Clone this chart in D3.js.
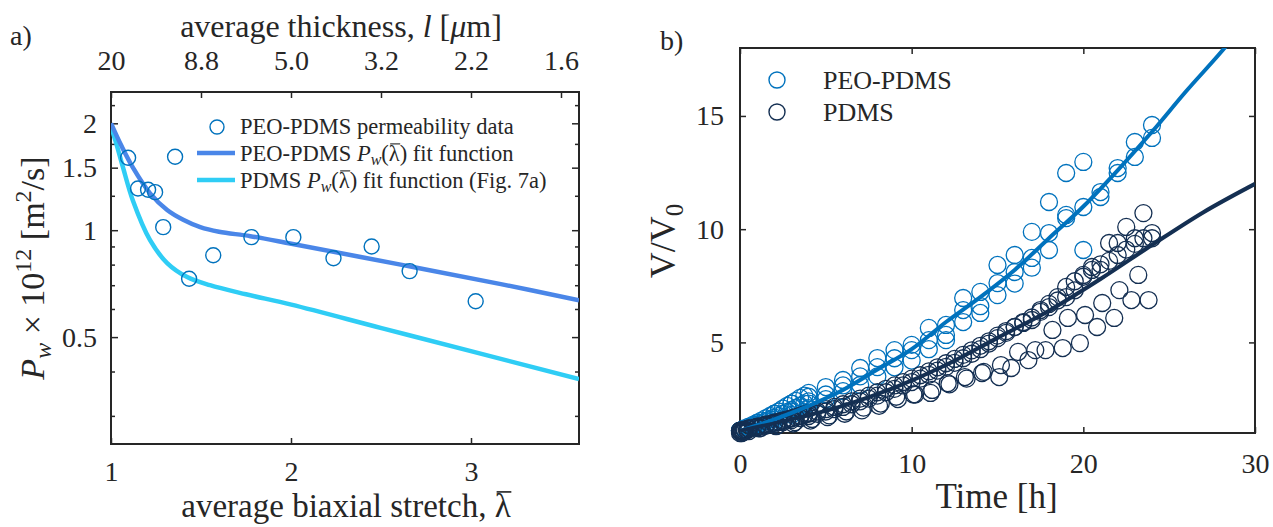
<!DOCTYPE html>
<html>
<head>
<meta charset="utf-8">
<script src="https://cdn.jsdelivr.net/npm/d3@7"></script>
<style>
    body { margin: 0; background: #fff; }
    svg text { font-family: "Liberation Serif", "Times New Roman", serif; fill: #262626; }
    .axis path, .axis line { stroke: #262626; }
</style>
</head>
<body>
<svg id="chart" width="1273" height="527"></svg>
<script>
// ---- panel a) permeability vs stretch ----
const stretchData = [1.095, 1.150, 1.206, 1.245, 1.356, 1.290, 1.434, 1.568, 1.780, 2.013, 2.236, 2.448, 2.659, 3.026];
const permData = [1.60, 1.31, 1.30, 1.28, 1.61, 1.02, 0.73, 0.85, 0.956, 0.956, 0.834, 0.90, 0.767, 0.631];

const peoFitStretch = [1.0, 1.06, 1.122, 1.217, 1.312, 1.401, 1.496, 1.6, 1.774, 2.002, 2.609, 3.166, 3.6];
const peoFitPerm = [2.0, 1.72, 1.50, 1.27, 1.14, 1.07, 1.02, 0.99, 0.962, 0.916, 0.800, 0.705, 0.635];

const pdmsFitStretch = [1.0, 1.03, 1.067, 1.122, 1.217, 1.312, 1.423, 1.55, 1.75, 2.002, 2.503, 3.01, 3.6];
const pdmsFitPerm = [1.96, 1.75, 1.50, 1.21, 0.937, 0.808, 0.738, 0.700, 0.660, 0.617, 0.530, 0.455, 0.381];

const thicknessTicks = [1, 1.5, 2, 2.5, 3, 3.5];
const thicknessLabels = ['20', '8.8', '5.0', '3.2', '2.2', '1.6'];
const permTicks = [0.5, 1, 1.5, 2];
const permMinorTicks = [0.3, 0.4, 0.6, 0.7, 0.8, 0.9, 1.25, 1.75, 2.25];

// ---- panel b) swelling vs time ----
const hours = [0, 1, 2, 3, 4, 5, 6, 7, 8, 9, 10, 11, 12, 13, 14, 15, 16, 17, 18, 19, 20, 21, 22, 23, 24];
const halfHours = [0, 0.5, 1, 1.5, 2, 2.5, 3, 3.5, 4, 4.5, 5, 5.5, 6, 6.5, 7, 7.5, 8, 8.5, 9, 9.5, 10, 10.5, 11, 11.5,
    12, 12.5, 13, 13.5, 14, 14.5, 15, 15.5, 16, 16.5, 17, 17.5, 18, 18.5, 19, 19.5, 20, 20.5, 21, 21.5, 22, 22.5, 23, 23.5, 24];
const earlyTimes = [0.25, 0.5, 0.75, 1, 1.25, 1.5, 1.75, 2, 2.25, 2.5, 2.75, 3, 3.25, 3.5, 3.75, 4];
const startTimes = [0, 0.05, 0.1, 0.15, 0.2, 0.3, 0.4, 0.5];

const peoHigh = [1.1, 1.45, 1.85, 2.3, 2.6, 3.03, 3.34, 3.87, 4.31, 4.66, 4.89, 5.64, 5.77, 6.96, 7.23, 8.42, 8.86, 9.88, 11.2, 12.48, 12.97];
const peoMid = [1.1, 1.3, 1.6, 1.95, 2.3, 2.7, 3.1, 3.5, 3.91, 4.3, 4.66, 5.1, 5.33, 6.43, 6.3, 7.62, 8.11, 8.73, 9.83, 10.63, 10.98, 11.64, 12.7, 13.85, 14.6];
const peoLow = [1.1, 1.25, 1.5, 1.8, 2.1, 2.5, 2.85, 3.12, 3.5, 3.9, 4.2, 4.7, 5.1, 5.9, 6.6, 7.09, 7.6, 8.3, 9.08, 10.49, 9.08, 11.42, 12.48, 13.19, 14.03];
const peoEarlyA = [1.2, 1.28, 1.36, 1.45, 1.55, 1.65, 1.75, 1.85, 1.95, 2.08, 2.2, 2.3, 2.42, 2.55, 2.65, 2.77];
const peoEarlyB = [1.15, 1.22, 1.3, 1.37, 1.45, 1.52, 1.6, 1.68, 1.76, 1.85, 1.93, 2.02, 2.1, 2.2, 2.3, 2.4];

const pdmsUpper = [1.1, 1.2, 1.28, 1.37, 1.46, 1.55, 1.65, 1.75, 1.85, 1.95, 2.05, 2.15, 2.27, 2.4, 2.52, 2.65, 2.8, 2.95,
    3.1, 3.25, 3.4, 3.55, 3.72, 3.9, 4.08, 4.27, 4.45, 4.65, 4.85, 5.05, 5.3, 5.5, 5.68, 5.9, 6.1, 6.35, 6.56, 6.85,
    7.0, 7.3, 7.9, 8.33, 8.2, 9.39, 9.39, 10.1, 9.6, 10.71, 9.83];
const pdmsMid = [1.1, 1.17, 1.24, 1.32, 1.4, 1.48, 1.57, 1.66, 1.75, 1.85, 1.95, 2.05, 2.15, 2.27, 2.4, 2.52, 2.65, 2.8,
    2.95, 3.1, 3.25, 3.4, 3.57, 3.75, 3.92, 4.1, 4.3, 4.5, 4.7, 4.95, 5.19, 5.42, 5.68, 5.86, 5.99, 6.43, 6.7, 7.0,
    7.45, 7.7, 7.98, 8.2, 8.45, 8.6, 8.86, 9.1, 9.35, 9.6, 9.6];
const pdmsLowTimes = [0.2, 1.2, 2.2, 3.2, 4.2, 5.2, 6.2, 7.2, 8.2, 9.2, 10.2, 11.2, 12.2, 13.2, 14.2, 15.2, 16.2, 17.2, 18.2, 19.1, 20.1, 21.1, 22.1, 23.2];
const pdmsLow = [1.1, 1.22, 1.35, 1.48, 1.62, 1.78, 1.95, 2.12, 2.3, 2.5, 2.7, 2.9, 3.15, 3.4, 3.7, 4.0, 4.58, 4.66, 5.55, 6.08, 6.21, 6.74, 7.31, 7.98];
const pdmsLowestTimes = [0.1, 1.1, 2.1, 3.1, 4.1, 5.1, 6.1, 7.1, 8.1, 9.1, 10.1, 11.1, 12.1, 13.1, 14.1, 15.1, 15.8, 16.8, 17.8, 18.8, 19.8, 20.8, 21.8, 22.8, 23.8];
const pdmsLowest = [1.1, 1.2, 1.3, 1.42, 1.55, 1.7, 1.85, 2.0, 2.2, 2.6, 2.7, 2.77, 3.2, 3.47, 3.65, 3.47, 3.87, 4.22, 4.66, 4.75, 4.97, 5.68, 6.08, 6.87, 6.87];
const pdmsEarly = [1.15, 1.19, 1.23, 1.27, 1.31, 1.35, 1.4, 1.45, 1.5, 1.55, 1.6, 1.65, 1.7, 1.76, 1.82, 1.88];
const pdmsStart = [1.0, 1.05, 1.0, 1.08, 1.04, 1.1, 1.12, 1.08];

const peoFitTime = [0, 2, 4, 6, 8, 10, 12, 14, 16, 18, 20, 22, 24, 26, 28, 29];
const peoFitVol = [1.1, 1.6, 2.2, 2.9, 3.8, 4.7, 5.9, 7.0, 8.2, 9.6, 11.0, 12.6, 14.3, 16.1, 17.8, 18.7];
const pdmsFitTime = [0, 3, 6, 9, 12, 15, 18, 21, 24, 27, 30];
const pdmsFitVol = [1.1, 1.6, 2.2, 3.0, 4.0, 5.2, 6.4, 7.8, 9.3, 10.75, 12.0];

const timeTicks = [0, 10, 20, 30];
const volTicks = [5, 10, 15];

const peoColor = '#0072bd';
const pdmsColor = '#142f52';
const peoFitColor = '#4a86e8';
const pdmsFitColor = '#2fcdf5';
const axisColor = '#262626';

const svg = d3.select('#chart');

// draws a bar over the λ of a text element, measured from the laid-out glyph
function overbarLambda(textSel, fontSize) {
    const node = textSel.node();
    const idx = node.textContent.lastIndexOf('λ');
    const start = node.getStartPositionOfChar(idx);
    const end = node.getEndPositionOfChar(idx);
    const parent = d3.select(node.parentNode);
    parent.append('line')
        .attr('x1', start.x + fontSize * 0.06).attr('x2', end.x + fontSize * 0.02)
        .attr('y1', start.y - fontSize * 0.76).attr('y2', start.y - fontSize * 0.76)
        .attr('stroke', axisColor).attr('stroke-width', Math.max(1, fontSize * 0.05));
}

// ===================== panel a =====================
const a = {left: 111, right: 579, top: 92, bottom: 444};

const xA = d3.scaleLinear().domain([1, 3.6]).range([a.left, a.right]);
const yA = d3.scaleLog().domain([0.25, 2.45]).range([a.bottom, a.top]);

const gA = svg.append('g');

gA.append('defs').append('clipPath').attr('id', 'clipA')
    .append('rect').attr('x', a.left).attr('y', a.top)
    .attr('width', a.right - a.left).attr('height', a.bottom - a.top);

// axes with inward ticks, domain drawn by the box
gA.append('g').attr('class', 'axis')
    .attr('transform', `translate(0,${a.bottom})`)
    .call(d3.axisBottom(xA).tickValues([1, 2, 3]).tickSize(-6).tickPadding(17).tickFormat(d3.format('d')))
    .call(g => g.select('.domain').remove());

gA.append('g').attr('class', 'axis')
    .attr('transform', `translate(0,${a.top})`)
    .call(d3.axisTop(xA).tickValues(thicknessTicks).tickSize(-6).tickPadding(22)
        .tickFormat((d, i) => thicknessLabels[i]))
    .call(g => g.select('.domain').remove());

gA.append('g').attr('class', 'axis')
    .attr('transform', `translate(${a.left},0)`)
    .call(d3.axisLeft(yA).tickValues(permTicks).tickSize(-7).tickPadding(14).tickFormat(d3.format('')))
    .call(g => g.select('.domain').remove());

gA.append('g').attr('class', 'axis')
    .attr('transform', `translate(${a.left},0)`)
    .call(d3.axisLeft(yA).tickValues(permMinorTicks).tickSize(-4).tickFormat(''))
    .call(g => g.select('.domain').remove());

gA.append('g').attr('class', 'axis')
    .attr('transform', `translate(${a.right},0)`)
    .call(d3.axisRight(yA).tickValues(permTicks).tickSize(-7).tickFormat(''))
    .call(g => g.select('.domain').remove());

gA.append('g').attr('class', 'axis')
    .attr('transform', `translate(${a.right},0)`)
    .call(d3.axisRight(yA).tickValues(permMinorTicks).tickSize(-4).tickFormat(''))
    .call(g => g.select('.domain').remove());

gA.selectAll('.axis line').attr('stroke-width', 1.5);
gA.selectAll('.axis text').style('font-size', '28px');

gA.append('rect')
    .attr('x', a.left).attr('y', a.top)
    .attr('width', a.right - a.left).attr('height', a.bottom - a.top)
    .attr('fill', 'none').attr('stroke', axisColor).attr('stroke-width', 2);

// fit curves
const lineA = d3.line().x(d => xA(d[0])).y(d => yA(d[1])).curve(d3.curveCatmullRom);

gA.append('path')
    .datum(pdmsFitStretch.map((s, i) => [s, pdmsFitPerm[i]]))
    .attr('clip-path', 'url(#clipA)')
    .attr('fill', 'none').attr('stroke', pdmsFitColor).attr('stroke-width', 4.5)
    .attr('d', lineA);

gA.append('path')
    .datum(peoFitStretch.map((s, i) => [s, peoFitPerm[i]]))
    .attr('clip-path', 'url(#clipA)')
    .attr('fill', 'none').attr('stroke', peoFitColor).attr('stroke-width', 4.5)
    .attr('d', lineA);

gA.selectAll('.perm-point')
    .data(stretchData.map((s, i) => [s, permData[i]]))
    .join('circle')
    .attr('class', 'perm-point')
    .attr('cx', d => xA(d[0]))
    .attr('cy', d => yA(d[1]))
    .attr('r', 7.5)
    .attr('fill', 'none').attr('stroke', peoColor).attr('stroke-width', 1.4);

// legend a
const legA = gA.append('g').style('font-size', '22.5px');
legA.append('circle').attr('cx', 217).attr('cy', 127).attr('r', 7)
    .attr('fill', 'none').attr('stroke', peoColor).attr('stroke-width', 1.4);
legA.append('text').attr('x', 240).attr('y', 134).text('PEO-PDMS permeability data');

legA.append('line').attr('x1', 197).attr('x2', 235).attr('y1', 153).attr('y2', 153)
    .attr('stroke', peoFitColor).attr('stroke-width', 4.5);
const leg2 = legA.append('text').attr('x', 240).attr('y', 161);
leg2.append('tspan').text('PEO-PDMS ');
leg2.append('tspan').attr('font-style', 'italic').text('P');
leg2.append('tspan').attr('font-style', 'italic').attr('font-size', '16px').attr('dy', 4).text('w');
leg2.append('tspan').attr('dy', -4).text('(λ) fit function');

legA.append('line').attr('x1', 197).attr('x2', 235).attr('y1', 180).attr('y2', 180)
    .attr('stroke', pdmsFitColor).attr('stroke-width', 4.5);
const leg3 = legA.append('text').attr('x', 240).attr('y', 188);
leg3.append('tspan').text('PDMS ');
leg3.append('tspan').attr('font-style', 'italic').text('P');
leg3.append('tspan').attr('font-style', 'italic').attr('font-size', '16px').attr('dy', 4).text('w');
leg3.append('tspan').attr('dy', -4).text('(λ) fit function (Fig. 7a)');

overbarLambda(leg2, 22.5);
overbarLambda(leg3, 22.5);

// titles a
gA.append('text').attr('x', 10).attr('y', 45).style('font-size', '28px').text('a)');

const topTitle = gA.append('text')
    .attr('x', (a.left + a.right) / 2 - 4).attr('y', 37)
    .attr('text-anchor', 'middle').style('font-size', '32px');
topTitle.append('tspan').text('average thickness, ');
topTitle.append('tspan').attr('font-style', 'italic').text('l');
topTitle.append('tspan').text(' [');
topTitle.append('tspan').attr('font-style', 'italic').text('μ');
topTitle.append('tspan').text('m]');

const bottomTitle = gA.append('text')
    .attr('x', (a.left + a.right) / 2 + 1).attr('y', 517)
    .attr('text-anchor', 'middle').style('font-size', '33px')
    .text('average biaxial stretch, λ');
overbarLambda(bottomTitle, 33);

const yTitleA = gA.append('text')
    .attr('transform', 'translate(44,268) rotate(-90)')
    .attr('text-anchor', 'middle').style('font-size', '34px');
yTitleA.append('tspan').attr('font-style', 'italic').text('P');
yTitleA.append('tspan').attr('font-style', 'italic').attr('font-size', '24px').attr('dy', 7).text('w');
yTitleA.append('tspan').attr('dy', -7).text(' × 10');
yTitleA.append('tspan').attr('font-size', '24px').attr('dy', -13).text('12');
yTitleA.append('tspan').attr('dy', 13).text(' [m');
yTitleA.append('tspan').attr('font-size', '24px').attr('dy', -13).text('2');
yTitleA.append('tspan').attr('dy', 13).text('/s]');

// ===================== panel b =====================
const b = {left: 740, right: 1255, top: 48, bottom: 433};

const xB = d3.scaleLinear().domain([0, 30]).range([b.left, b.right]);
const yB = d3.scaleLinear().domain([1, 18]).range([b.bottom, b.top]);

const gB = svg.append('g');

gB.append('defs').append('clipPath').attr('id', 'clipB')
    .append('rect').attr('x', b.left).attr('y', b.top)
    .attr('width', b.right - b.left).attr('height', b.bottom - b.top);

gB.append('g').attr('class', 'axis')
    .attr('transform', `translate(0,${b.bottom})`)
    .call(d3.axisBottom(xB).tickValues(timeTicks).tickSize(-6).tickPadding(20))
    .call(g => g.select('.domain').remove());

gB.append('g').attr('class', 'axis')
    .attr('transform', `translate(0,${b.top})`)
    .call(d3.axisTop(xB).tickValues(timeTicks).tickSize(-6).tickFormat(''))
    .call(g => g.select('.domain').remove());

gB.append('g').attr('class', 'axis')
    .attr('transform', `translate(${b.left},0)`)
    .call(d3.axisLeft(yB).tickValues(volTicks).tickSize(-6).tickPadding(16))
    .call(g => g.select('.domain').remove());

gB.append('g').attr('class', 'axis')
    .attr('transform', `translate(${b.right},0)`)
    .call(d3.axisRight(yB).tickValues(volTicks).tickSize(-6).tickFormat(''))
    .call(g => g.select('.domain').remove());

gB.selectAll('.axis line').attr('stroke-width', 1.5);
gB.selectAll('.axis text').style('font-size', '28px');

gB.append('rect')
    .attr('x', b.left).attr('y', b.top)
    .attr('width', b.right - b.left).attr('height', b.bottom - b.top)
    .attr('fill', 'none').attr('stroke', axisColor).attr('stroke-width', 2);

const zipPoints = (times, values) => values.map((v, i) => [times[i], v]);
const peoPoints = [
    ...zipPoints(hours, peoHigh), ...zipPoints(hours, peoMid), ...zipPoints(hours, peoLow),
    ...zipPoints(earlyTimes, peoEarlyA), ...zipPoints(earlyTimes, peoEarlyB)
];
const pdmsPoints = [
    ...zipPoints(halfHours, pdmsUpper), ...zipPoints(halfHours, pdmsMid),
    ...zipPoints(pdmsLowTimes, pdmsLow), ...zipPoints(pdmsLowestTimes, pdmsLowest),
    ...zipPoints(earlyTimes, pdmsEarly), ...zipPoints(startTimes, pdmsStart)
];

gB.selectAll('.peo-point')
    .data(peoPoints)
    .join('circle')
    .attr('class', 'peo-point')
    .attr('cx', d => xB(d[0])).attr('cy', d => yB(d[1]))
    .attr('r', 8.5)
    .attr('fill', 'none').attr('stroke', peoColor).attr('stroke-width', 1.3);

gB.selectAll('.pdms-point')
    .data(pdmsPoints)
    .join('circle')
    .attr('class', 'pdms-point')
    .attr('cx', d => xB(d[0])).attr('cy', d => yB(d[1]))
    .attr('r', 8.5)
    .attr('fill', 'none').attr('stroke', pdmsColor).attr('stroke-width', 1.3);

const lineB = d3.line().x(d => xB(d[0])).y(d => yB(d[1])).curve(d3.curveMonotoneX);

gB.append('path')
    .datum(peoFitTime.map((t, i) => [t, peoFitVol[i]]))
    .attr('clip-path', 'url(#clipB)')
    .attr('fill', 'none').attr('stroke', peoColor).attr('stroke-width', 4)
    .attr('d', lineB);

gB.append('path')
    .datum(pdmsFitTime.map((t, i) => [t, pdmsFitVol[i]]))
    .attr('clip-path', 'url(#clipB)')
    .attr('fill', 'none').attr('stroke', pdmsColor).attr('stroke-width', 4)
    .attr('d', lineB);

// legend b
const legB = gB.append('g').style('font-size', '26px');
legB.append('circle').attr('cx', 777).attr('cy', 80).attr('r', 8)
    .attr('fill', 'none').attr('stroke', peoColor).attr('stroke-width', 1.4);
legB.append('text').attr('x', 823).attr('y', 89).text('PEO-PDMS');
legB.append('circle').attr('cx', 777).attr('cy', 112).attr('r', 8)
    .attr('fill', 'none').attr('stroke', pdmsColor).attr('stroke-width', 1.4);
legB.append('text').attr('x', 823).attr('y', 121).text('PDMS');

gB.append('text').attr('x', 660).attr('y', 50).style('font-size', '28px').text('b)');

gB.append('text')
    .attr('x', (b.left + b.right) / 2 - 1).attr('y', 508)
    .attr('text-anchor', 'middle').style('font-size', '35px')
    .text('Time [h]');

const yTitleB = gB.append('text')
    .attr('transform', 'translate(675,241) rotate(-90)')
    .attr('text-anchor', 'middle').style('font-size', '36px');
yTitleB.append('tspan').text('V/V');
yTitleB.append('tspan').attr('font-size', '25px').attr('dy', 8).text('0');
</script>
</body>
</html>
